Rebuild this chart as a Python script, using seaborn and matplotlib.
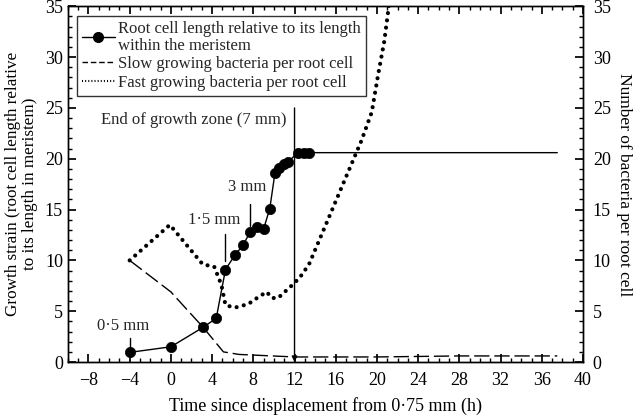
import matplotlib
matplotlib.use("Agg")
import matplotlib.pyplot as plt
import seaborn as sns
from matplotlib.lines import Line2D
from matplotlib.ticker import MultipleLocator

# dados
time_root = [-4, 0, 3.1, 4.4, 5.3, 6.2, 7.0, 7.7, 8.4, 9.0, 9.6, 10.1, 10.5, 11.0, 11.4, 12.3, 12.9, 13.4]
strain_root = [0.95, 1.5, 3.4, 4.3, 9.1, 10.5, 11.5, 12.8, 13.3, 13.1, 15.1, 18.6, 19.1, 19.5, 19.7, 20.6, 20.6, 20.6]
root_end_time = 37.5

slow_time = [-4, 0, 3.1, 5.1, 6.6, 12, 20, 28, 37.5]
slow_count = [10, 6.9, 3.45, 1.0, 0.75, 0.5, 0.5, 0.6, 0.6]

fast_time = [-4, -0.1, 3.1, 4.2, 4.9, 5.3, 6.2, 7.5, 8.5, 9.3, 9.8, 10.4, 11.7, 12.5,
             13.4, 15.2, 16.7, 18.5, 19.5, 20.1, 20.7, 21.1, 21.3]
fast_count = [10, 13.5, 9.6, 9.4, 7.6, 5.6, 5.35, 5.7, 6.4, 6.9, 6.3, 6.3, 7.5, 8.3,
              9.6, 13.9, 17.5, 21.8, 24.6, 28.2, 31.5, 34.6, 36]

sns.set_theme(style="ticks")
plt.rcParams['font.family'] = ['Liberation Serif', 'DejaVu Serif']

fig, ax = plt.subplots(figsize=(6.4, 4.2), dpi=100)
fig.subplots_adjust(left=0.106, right=0.911, bottom=0.138, top=0.985)
ax2 = ax.twinx()

# comprimento da celula
sns.lineplot(x=time_root + [root_end_time], y=strain_root + [strain_root[-1]],
             ax=ax, color='black', lw=1, sort=False)
sns.scatterplot(x=time_root, y=strain_root, ax=ax, color='black', s=55,
                edgecolor='black', linewidth=0.5, zorder=5)

# bacterias
sns.lineplot(x=slow_time, y=slow_count, ax=ax2, color='black', lw=1, sort=False,
             dashes=False, linestyle=(0, (11, 3.5)))
sns.lineplot(x=fast_time, y=fast_count, ax=ax2, color='black', lw=3, sort=False,
             dashes=False, linestyle=(0, (0.01, 1.75)), dash_capstyle='round')

for a in (ax, ax2):
    a.set_xlim(-10, 40)
    a.set_ylim(0, 35)
    a.yaxis.set_major_locator(MultipleLocator(5))
    a.yaxis.set_minor_locator(MultipleLocator(1))
    for s in a.spines.values():
        s.set_color('black')
        s.set_linewidth(1)
ax.xaxis.set_major_locator(MultipleLocator(4))
ax.xaxis.set_minor_locator(MultipleLocator(1))
ax.tick_params(which='both', direction='in', top=True, right=False, colors='black', labelsize=13)
ax.tick_params(which='major', length=6)
ax.tick_params(which='minor', length=3)
ax.tick_params(axis='x', pad=7)
ax2.tick_params(which='both', direction='in', colors='black', labelsize=13, pad=7)
ax2.tick_params(which='major', length=6)
ax2.tick_params(which='minor', length=3)

ax.set_xlabel('Time since displacement from 0·75 mm (h)', fontsize=13, color='black', labelpad=6)
ax.set_ylabel('Growth strain (root cell length relative\nto its length in meristem)',
              fontsize=12.3, color='black', labelpad=5, linespacing=1.05)
ax2.set_ylabel('Number of bacteria per root cell', fontsize=12.5, color='black',
               rotation=270, labelpad=15)

# anotacoes
ax.annotate('', xy=(12, 0), xytext=(12, 25),
            arrowprops=dict(arrowstyle='-|>', color='black', lw=1, mutation_scale=8,
                            shrinkA=0, shrinkB=0))
ax.text(11.2, 23.8, 'End of growth zone (7 mm)', ha='right', va='center', fontsize=12)
ax.plot([-4, -4], [2.4, 1.4], color='black', lw=1)
ax.text(-4.6, 3.5, '0·5 mm', ha='center', va='center', fontsize=12)
ax.plot([5.3, 5.3], [12.6, 9.9], color='black', lw=1)
ax.text(4.2, 14.0, '1·5 mm', ha='center', va='center', fontsize=12)
ax.plot([7.7, 7.7], [15.5, 13.4], color='black', lw=1)
ax.text(7.4, 17.2, '3 mm', ha='center', va='center', fontsize=12)

handles = [
    Line2D([], [], color='black', lw=1, marker='o', markersize=7),
    Line2D([], [], color='black', lw=1, linestyle=(0, (4, 2))),
    Line2D([], [], color='black', lw=1.5, linestyle=(0, (0.5, 1))),
]
labels = ['Root cell length relative to its length\nwithin the meristem',
          'Slow growing bacteria per root cell',
          'Fast growing bacteria per root cell']
leg = ax2.legend(handles, labels, loc='upper left', bbox_to_anchor=(0.017, 0.973),
                 fontsize=12, frameon=True, fancybox=False, edgecolor='black',
                 handlelength=2.0, handletextpad=0.2, borderpad=0.3,
                 labelspacing=0.15, borderaxespad=0)
leg.get_frame().set_linewidth(1)
for t in leg.get_texts():
    t.set_linespacing(1.05)

fig.savefig('out.png', dpi=100)
